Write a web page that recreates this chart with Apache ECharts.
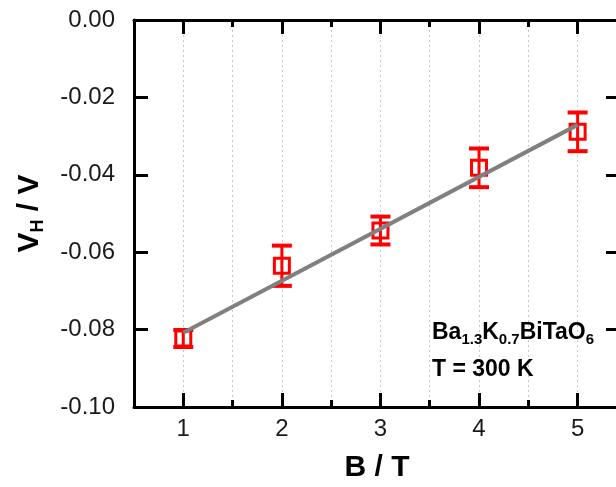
<!DOCTYPE html>
<html>
<head>
<meta charset="utf-8">
<script src="https://cdn.jsdelivr.net/npm/echarts@6/dist/echarts.min.js"></script>
<style>html,body{margin:0;padding:0;background:#fff}#c{width:616px;height:487px}</style>
</head>
<body>
<div id="c"></div>
<script>
// Data
const fieldB = [1, 2, 3, 4, 5];
const hallV = [-0.0823, -0.0635, -0.0544, -0.0382, -0.0289];
const hallErr = [0.0022, 0.0052, 0.0036, 0.005, 0.005];
const fitLine = [[1, -0.0808], [5, -0.0271]];
const yTicks = [-0.10, -0.08, -0.06, -0.04, -0.02, 0.00];

const pts = fieldB.map((b, i) => [b, hallV[i]]);
const errs = fieldB.map((b, i) => [b, hallV[i], hallErr[i]]);

const FONT = 'Liberation Sans, Arial, Helvetica, sans-serif';
const X_MIN = 0.5, X_MAX = 5.43;
// keep the top of the range a hair below zero so no axis snaps "on zero"
const Y_MIN = yTicks[0], Y_MAX = yTicks[yTicks.length - 1] - 1e-9;

const chart = echarts.init(document.getElementById('c'));

function xAxisOpt(pos) {
  return {
    type: 'value', min: X_MIN, max: X_MAX, splitNumber: 5, position: pos,
    axisLine: {show: true, onZero: false, lineStyle: {color: '#000', width: 3}},
    axisTick: {show: true, inside: true, length: 14, lineStyle: {color: '#000', width: 3}},
    minorTick: {show: true, splitNumber: 2, length: 7, lineStyle: {color: '#000', width: 3}}
  };
}
function yAxisOpt(pos) {
  return {
    type: 'value', min: Y_MIN, max: Y_MAX, interval: 0.02, position: pos,
    axisLine: {show: true, onZero: false, lineStyle: {color: '#000', width: 3}},
    axisTick: {show: true, inside: true, length: 14, lineStyle: {color: '#000', width: 3}},
    splitLine: {show: false}
  };
}

const xb = xAxisOpt('bottom');
xb.axisLabel = {fontSize: 24, color: '#1a1a1a', margin: 10, fontFamily: FONT,
  formatter: v => (Math.abs(v - Math.round(v)) < 1e-6 ? String(Math.round(v)) : '')};
xb.splitLine = {show: true, lineStyle: {type: [2, 3], color: '#c8c8c8', width: 1}};
xb.minorSplitLine = {show: true, lineStyle: {type: [2, 3], color: '#c8c8c8', width: 1}};
xb.name = 'B / T';
xb.nameLocation = 'middle';
xb.nameGap = 46;
xb.nameTextStyle = {fontSize: 30, fontWeight: 'bold', color: '#000', fontFamily: FONT};

const xt = xAxisOpt('top');
xt.axisLabel = {show: false};
xt.splitLine = {show: false};

const yl = yAxisOpt('left');
yl.axisLabel = {fontSize: 24, color: '#1a1a1a', margin: 19, fontFamily: FONT,
  formatter: v => (Math.abs(v) < 1e-6 ? 0 : v).toFixed(2)};
yl.name = '{a|V}{s|H}{a| / V}';
yl.nameLocation = 'middle';
yl.nameGap = 84;
yl.nameTextStyle = {
  fontFamily: FONT,
  rich: {
    a: {fontSize: 30, fontWeight: 'bold', color: '#000', fontFamily: FONT, lineHeight: 40, verticalAlign: 'middle'},
    s: {fontSize: 18, fontWeight: 'bold', color: '#000', fontFamily: FONT, lineHeight: 40, verticalAlign: 'bottom', padding: [0, 0, 2, 0]}
  }
};

const yr = yAxisOpt('right');
yr.axisLabel = {show: false};

chart.setOption({
  animation: false,
  backgroundColor: '#fff',
  grid: {left: 134, top: 20, width: 486, height: 387, outerBoundsMode: 'none'},
  xAxis: [xb, xt],
  yAxis: [yl, yr],
  graphic: [
    {
      type: 'text', left: 432, top: 321, z: 100,
      style: {
        text: '{b|Ba}{s|1.3}{b|K}{s|0.7}{b|BiTaO}{s|6}',
        rich: {
          b: {fontSize: 23, fontWeight: 'bold', fill: '#000', fontFamily: FONT, lineHeight: 30, verticalAlign: 'middle'},
          s: {fontSize: 15, fontWeight: 'bold', fill: '#000', fontFamily: FONT, lineHeight: 30, verticalAlign: 'bottom'}
        }
      }
    },
    {
      type: 'text', left: 432, top: 358, z: 100,
      style: {text: 'T = 300 K', fontSize: 23, fontWeight: 'bold', fill: '#000', fontFamily: FONT}
    }
  ],
  series: [
    {
      type: 'scatter', data: pts, z: 3,
      symbol: 'rect', symbolSize: 15,
      itemStyle: {color: '#fff', borderColor: '#ff0000', borderWidth: 3, opacity: 1}
    },
    {
      type: 'custom', data: errs, z: 4,
      renderItem: function (params, api) {
        const x = api.value(0), y = api.value(1), e = api.value(2);
        const t = api.coord([x, y + e]);
        const b = api.coord([x, y - e]);
        const hw = 10;
        return {
          type: 'group',
          children: [
            {type: 'line', shape: {x1: t[0], y1: t[1], x2: b[0], y2: b[1]}, style: {stroke: '#ff0000', lineWidth: 3}},
            {type: 'line', shape: {x1: t[0] - hw, y1: t[1], x2: t[0] + hw, y2: t[1]}, style: {stroke: '#ff0000', lineWidth: 4}},
            {type: 'line', shape: {x1: b[0] - hw, y1: b[1], x2: b[0] + hw, y2: b[1]}, style: {stroke: '#ff0000', lineWidth: 4}}
          ]
        };
      }
    },
    {
      type: 'line', data: fitLine, z: 5,
      showSymbol: false, symbol: 'none',
      lineStyle: {color: '#808080', width: 4}
    }
  ]
});
</script>
</body>
</html>
